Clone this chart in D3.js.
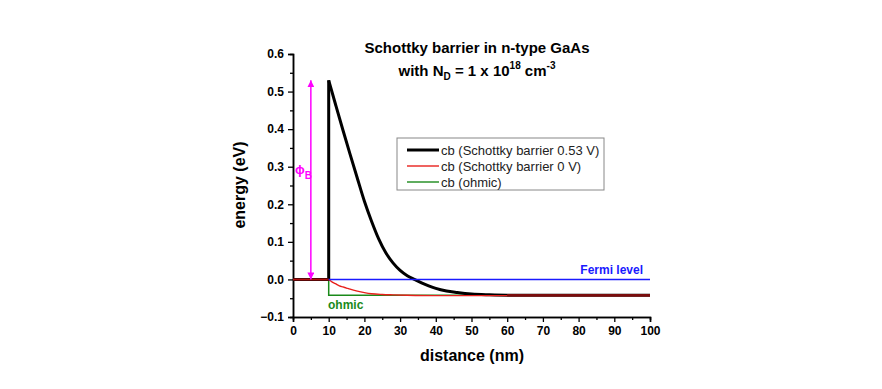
<!DOCTYPE html>
<html>
<head>
<meta charset="utf-8">
<script src="https://cdn.jsdelivr.net/npm/d3@7"></script>
<style>
  body { margin: 0; background: #fff; }
  svg { display: block; font-family: "Liberation Sans", Arial, sans-serif; }
</style>
</head>
<body>
<div id="chart"></div>
<script>
// values
const blackX = [0, 10, 10, 12, 14, 16, 18, 20, 22, 24, 26, 28, 30, 32, 34, 36, 38, 40, 43, 46, 50, 55, 60, 100];
const blackE = [0, 0, 0.53, 0.463, 0.397, 0.333, 0.27, 0.208, 0.155, 0.108, 0.071, 0.044, 0.024, 0.01, 0.0, -0.009, -0.017, -0.024, -0.031, -0.035, -0.039, -0.041, -0.042, -0.042];

const redX = [0, 10, 11, 12, 13, 14, 15, 16, 18, 20, 22, 25, 28, 32, 40, 100];
const redE = [0, 0, -0.007, -0.012, -0.017, -0.02, -0.023, -0.026, -0.031, -0.035, -0.038, -0.04, -0.041, -0.042, -0.043, -0.043];

const greenX = [0, 10, 10, 100];
const greenE = [0, 0, -0.042, -0.042];

const fermiX = [10, 100];
const fermiE = [0, 0];

const barrierX = 5;
const barrierTop = 0.53;

const legendLabels = ["cb (Schottky barrier 0.53 V)", "cb (Schottky barrier 0 V)", "cb (ohmic)"];
const legendColors = ["#000000", "#e8201c", "#1a8a1a"];

const xTicks = d3.range(0, 101, 10);
const yTicks = [-0.1, 0, 0.1, 0.2, 0.3, 0.4, 0.5, 0.6];

const width = 882, height = 389;

const svg = d3.select("#chart").append("svg")
    .attr("width", width)
    .attr("height", height)
    .attr("viewBox", `0 0 ${width} ${height}`);

const x = d3.scaleLinear().domain([0, 100]).range([293, 650]);
const y = d3.scaleLinear().domain([-0.1, 0.6]).range([317, 54]);

// axes: left + bottom only, outward ticks with minors
const xAxis = d3.axisBottom(x).tickValues(xTicks).tickSize(5).tickPadding(4).tickFormat(d3.format("d"));
const xMinor = d3.axisBottom(x).tickValues(d3.range(5, 100, 10)).tickSize(3).tickFormat("");
const yAxis = d3.axisLeft(y).tickValues(yTicks).tickSize(5).tickPadding(4).tickFormat(d3.format(".1f"));
const yMinor = d3.axisLeft(y).tickValues(d3.range(-0.05, 0.6, 0.1)).tickSize(3).tickFormat("");

function styleAxis(g) {
    g.select(".domain").attr("stroke", "#000").attr("stroke-width", 1.5);
    g.selectAll(".tick line").attr("stroke", "#000").attr("stroke-width", 1.3);
    g.selectAll(".tick text").attr("fill", "#000").style("font-size", "12px").style("font-weight", "bold")
        .style("font-family", "'Liberation Sans', Arial, sans-serif");
}

svg.append("g").attr("transform", `translate(0,${y(-0.1)})`).call(xMinor).call(styleAxis);
svg.append("g").attr("transform", `translate(0,${y(-0.1)})`).call(xAxis).call(styleAxis);
svg.append("g").attr("transform", `translate(${x(0)},0)`).call(yMinor).call(styleAxis);
svg.append("g").attr("transform", `translate(${x(0)},0)`).call(yAxis).call(styleAxis);

// axis titles
svg.append("text")
    .attr("x", 472).attr("y", 361)
    .attr("text-anchor", "middle")
    .style("font-size", "16px").style("font-weight", "bold")
    .text("distance (nm)");

svg.append("text")
    .attr("transform", "translate(245,185) rotate(-90)")
    .attr("text-anchor", "middle")
    .style("font-size", "16px").style("font-weight", "bold")
    .text("energy (eV)");

// title
svg.append("text")
    .attr("x", 477).attr("y", 53)
    .attr("text-anchor", "middle")
    .style("font-size", "15px").style("font-weight", "bold")
    .text("Schottky barrier in n-type GaAs");

const t2 = svg.append("text")
    .attr("x", 477).attr("y", 76)
    .attr("text-anchor", "middle")
    .style("font-size", "15px").style("font-weight", "bold");
t2.append("tspan").text("with N");
t2.append("tspan").attr("dy", 4).style("font-size", "10px").text("D");
t2.append("tspan").attr("dy", -4).text(" = 1 x 10");
t2.append("tspan").attr("dy", -7).style("font-size", "10px").text("18");
t2.append("tspan").attr("dy", 7).text(" cm");
t2.append("tspan").attr("dy", -7).style("font-size", "10px").text("-3");

const zip = (xs, es) => xs.map((d, i) => [d, es[i]]);
const lineLinear = d3.line().x(d => x(d[0])).y(d => y(d[1]));
const lineSmooth = d3.line().x(d => x(d[0])).y(d => y(d[1])).curve(d3.curveMonotoneX);

const green = zip(greenX, greenE);
const black = zip(blackX, blackE);
const red = zip(redX, redE);

svg.append("path").attr("d", lineLinear(green))
    .attr("fill", "none").attr("stroke", "#1a8a1a").attr("stroke-width", 1.5);

svg.append("path").attr("d", lineLinear(black.slice(0, 3)))
    .attr("fill", "none").attr("stroke", "#000").attr("stroke-width", 3);
svg.append("path").attr("d", lineSmooth(black.slice(2)))
    .attr("fill", "none").attr("stroke", "#000").attr("stroke-width", 3);

svg.append("path").attr("d", lineLinear(red.slice(0, 2)))
    .attr("fill", "none").attr("stroke", "#b01010").attr("stroke-width", 2);
svg.append("path").attr("d", lineSmooth(red.slice(1)))
    .attr("fill", "none").attr("stroke", "#e8201c").attr("stroke-width", 1.4);

svg.append("path").attr("d", lineLinear(zip(fermiX, fermiE)))
    .attr("fill", "none").attr("stroke", "#1a1aff").attr("stroke-width", 1.5);

// dark overlap on the flat tail
svg.append("path").attr("d", lineLinear([[60, -0.042], [100, -0.042]]))
    .attr("fill", "none").attr("stroke", "#7a0c0c").attr("stroke-width", 2.6);

// barrier height arrow
const defs = svg.append("defs");
defs.append("marker")
    .attr("id", "arr")
    .attr("viewBox", "0 0 10 10")
    .attr("refX", 10).attr("refY", 5)
    .attr("markerWidth", 7).attr("markerHeight", 7)
    .attr("markerUnits", "userSpaceOnUse")
    .attr("orient", "auto-start-reverse")
    .append("path").attr("d", "M0,0 L10,5 L0,10 Z").attr("fill", "#ff00ff");

svg.append("line")
    .attr("x1", x(barrierX)).attr("x2", x(barrierX))
    .attr("y1", y(0)).attr("y2", y(barrierTop))
    .attr("stroke", "#ff00ff").attr("stroke-width", 1.5)
    .attr("marker-start", "url(#arr)").attr("marker-end", "url(#arr)");

const phi = svg.append("text")
    .attr("x", 295).attr("y", 174)
    .attr("fill", "#ff00ff")
    .style("font-size", "13px").style("font-weight", "bold");
phi.append("tspan").text("\u03d5");
phi.append("tspan").attr("dy", 5).style("font-size", "10px").text("B");

// annotations
svg.append("text")
    .attr("x", 643).attr("y", 274)
    .attr("text-anchor", "end")
    .attr("fill", "#1a1aff")
    .style("font-size", "12px").style("font-weight", "bold")
    .text("Fermi level");

svg.append("text")
    .attr("x", 328).attr("y", 309)
    .attr("fill", "#1a8a1a")
    .style("font-size", "12px").style("font-weight", "bold")
    .text("ohmic");

// legend
const lg = svg.append("g");
lg.append("rect")
    .attr("x", 397).attr("y", 138)
    .attr("width", 207).attr("height", 52)
    .attr("fill", "#fff").attr("stroke", "#888").attr("stroke-width", 1);

const rows = lg.selectAll("g.row").data(legendLabels).join("g")
    .attr("class", "row")
    .attr("transform", (d, i) => `translate(0,${150 + i * 16})`);
rows.append("line")
    .attr("x1", 407).attr("x2", 439)
    .attr("stroke", (d, i) => legendColors[i])
    .attr("stroke-width", (d, i) => i === 0 ? 3 : 1.4);
rows.append("text")
    .attr("x", 441).attr("y", 4.5)
    .style("font-size", "13px")
    .attr("fill", "#222")
    .text(d => d);
</script>
</body>
</html>
